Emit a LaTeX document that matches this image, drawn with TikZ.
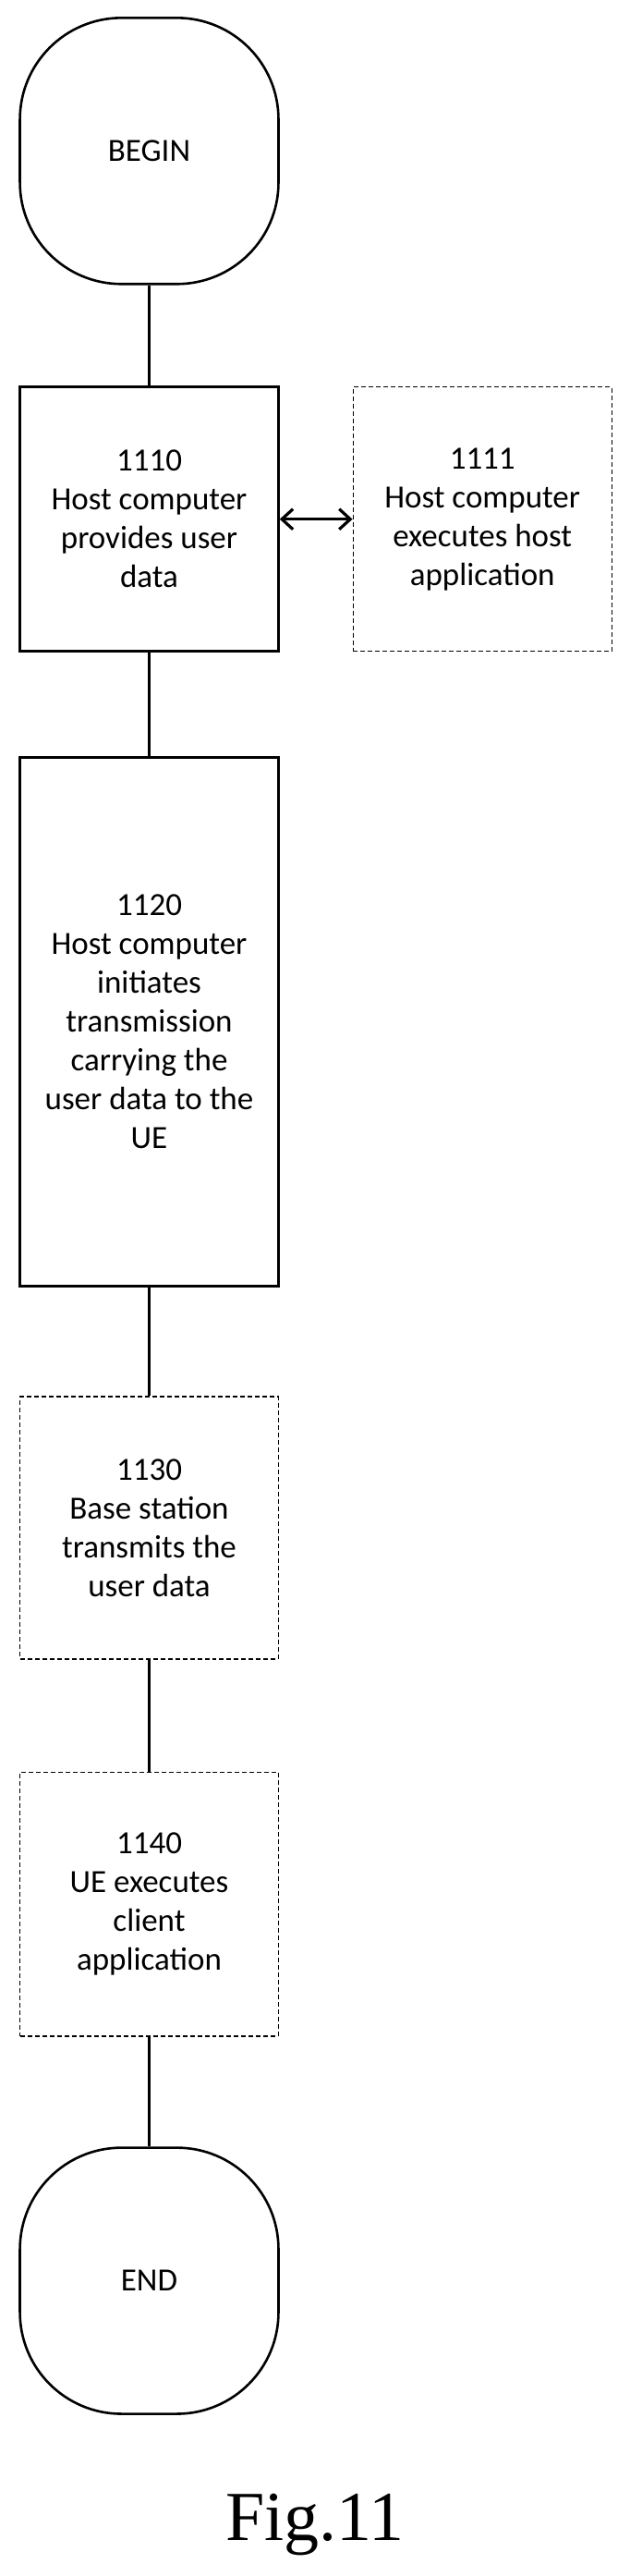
\documentclass[tikz,border=0pt]{standalone}
\usepackage{fontspec}
\setmainfont{Carlito}
\newfontfamily\figfont{Liberation Serif}
\usetikzlibrary{arrows.meta}
\tikzset{
	box/.style={draw, line width=1.3pt, minimum width=140pt, align=center, font=\fontsize{17.5}{21}\selectfont},
	opt/.style={box, line width=0.7pt, dash pattern=on 2.5pt off 1.5pt},
	term/.style={box, rounded corners=55pt, minimum height=144pt},
	link/.style={line width=1.6pt}
}
\begin{document}
\begin{tikzpicture}[x=0.8975pt, y=-0.8975pt]
	\useasboundingbox (0,0) rectangle (380,1553);
	%steps
	\node[term] (begin) at (90,91) {BEGIN};
	\node[box, minimum height=143pt] (s1110) at (90,313) {1110\\Host computer\\provides user\\data};
	\node[opt, minimum height=143pt] (s1111) at (291,313) {1111\\Host computer\\executes host\\application};
	\node[box, minimum height=286pt] (s1120) at (90,616) {1120\\Host computer\\initiates\\transmission\\carrying the\\user data to the\\UE};
	\node[opt, minimum height=142pt] (s1130) at (90,921) {1130\\Base station\\transmits the\\user data};
	\node[opt, minimum height=143pt] (s1140) at (90,1148) {1140\\UE executes\\client\\application};
	\node[term] (end) at (90,1375) {END};
	%connectors
	\draw[link] (begin) -- (s1110);
	\draw[link] (s1110) -- (s1120);
	\draw[link] (s1120) -- (s1130);
	\draw[link] (s1130) -- (s1140);
	\draw[link] (s1140) -- (end);
	\draw[link, {Straight Barb[length=6pt,width=11pt]}-{Straight Barb[length=6pt,width=11pt]}] (s1110) -- (s1111);
	%caption
	\node[font=\figfont\fontsize{38}{44}\selectfont] (fig) at (190,1522) {Fig.11};
\end{tikzpicture}
\end{document}
